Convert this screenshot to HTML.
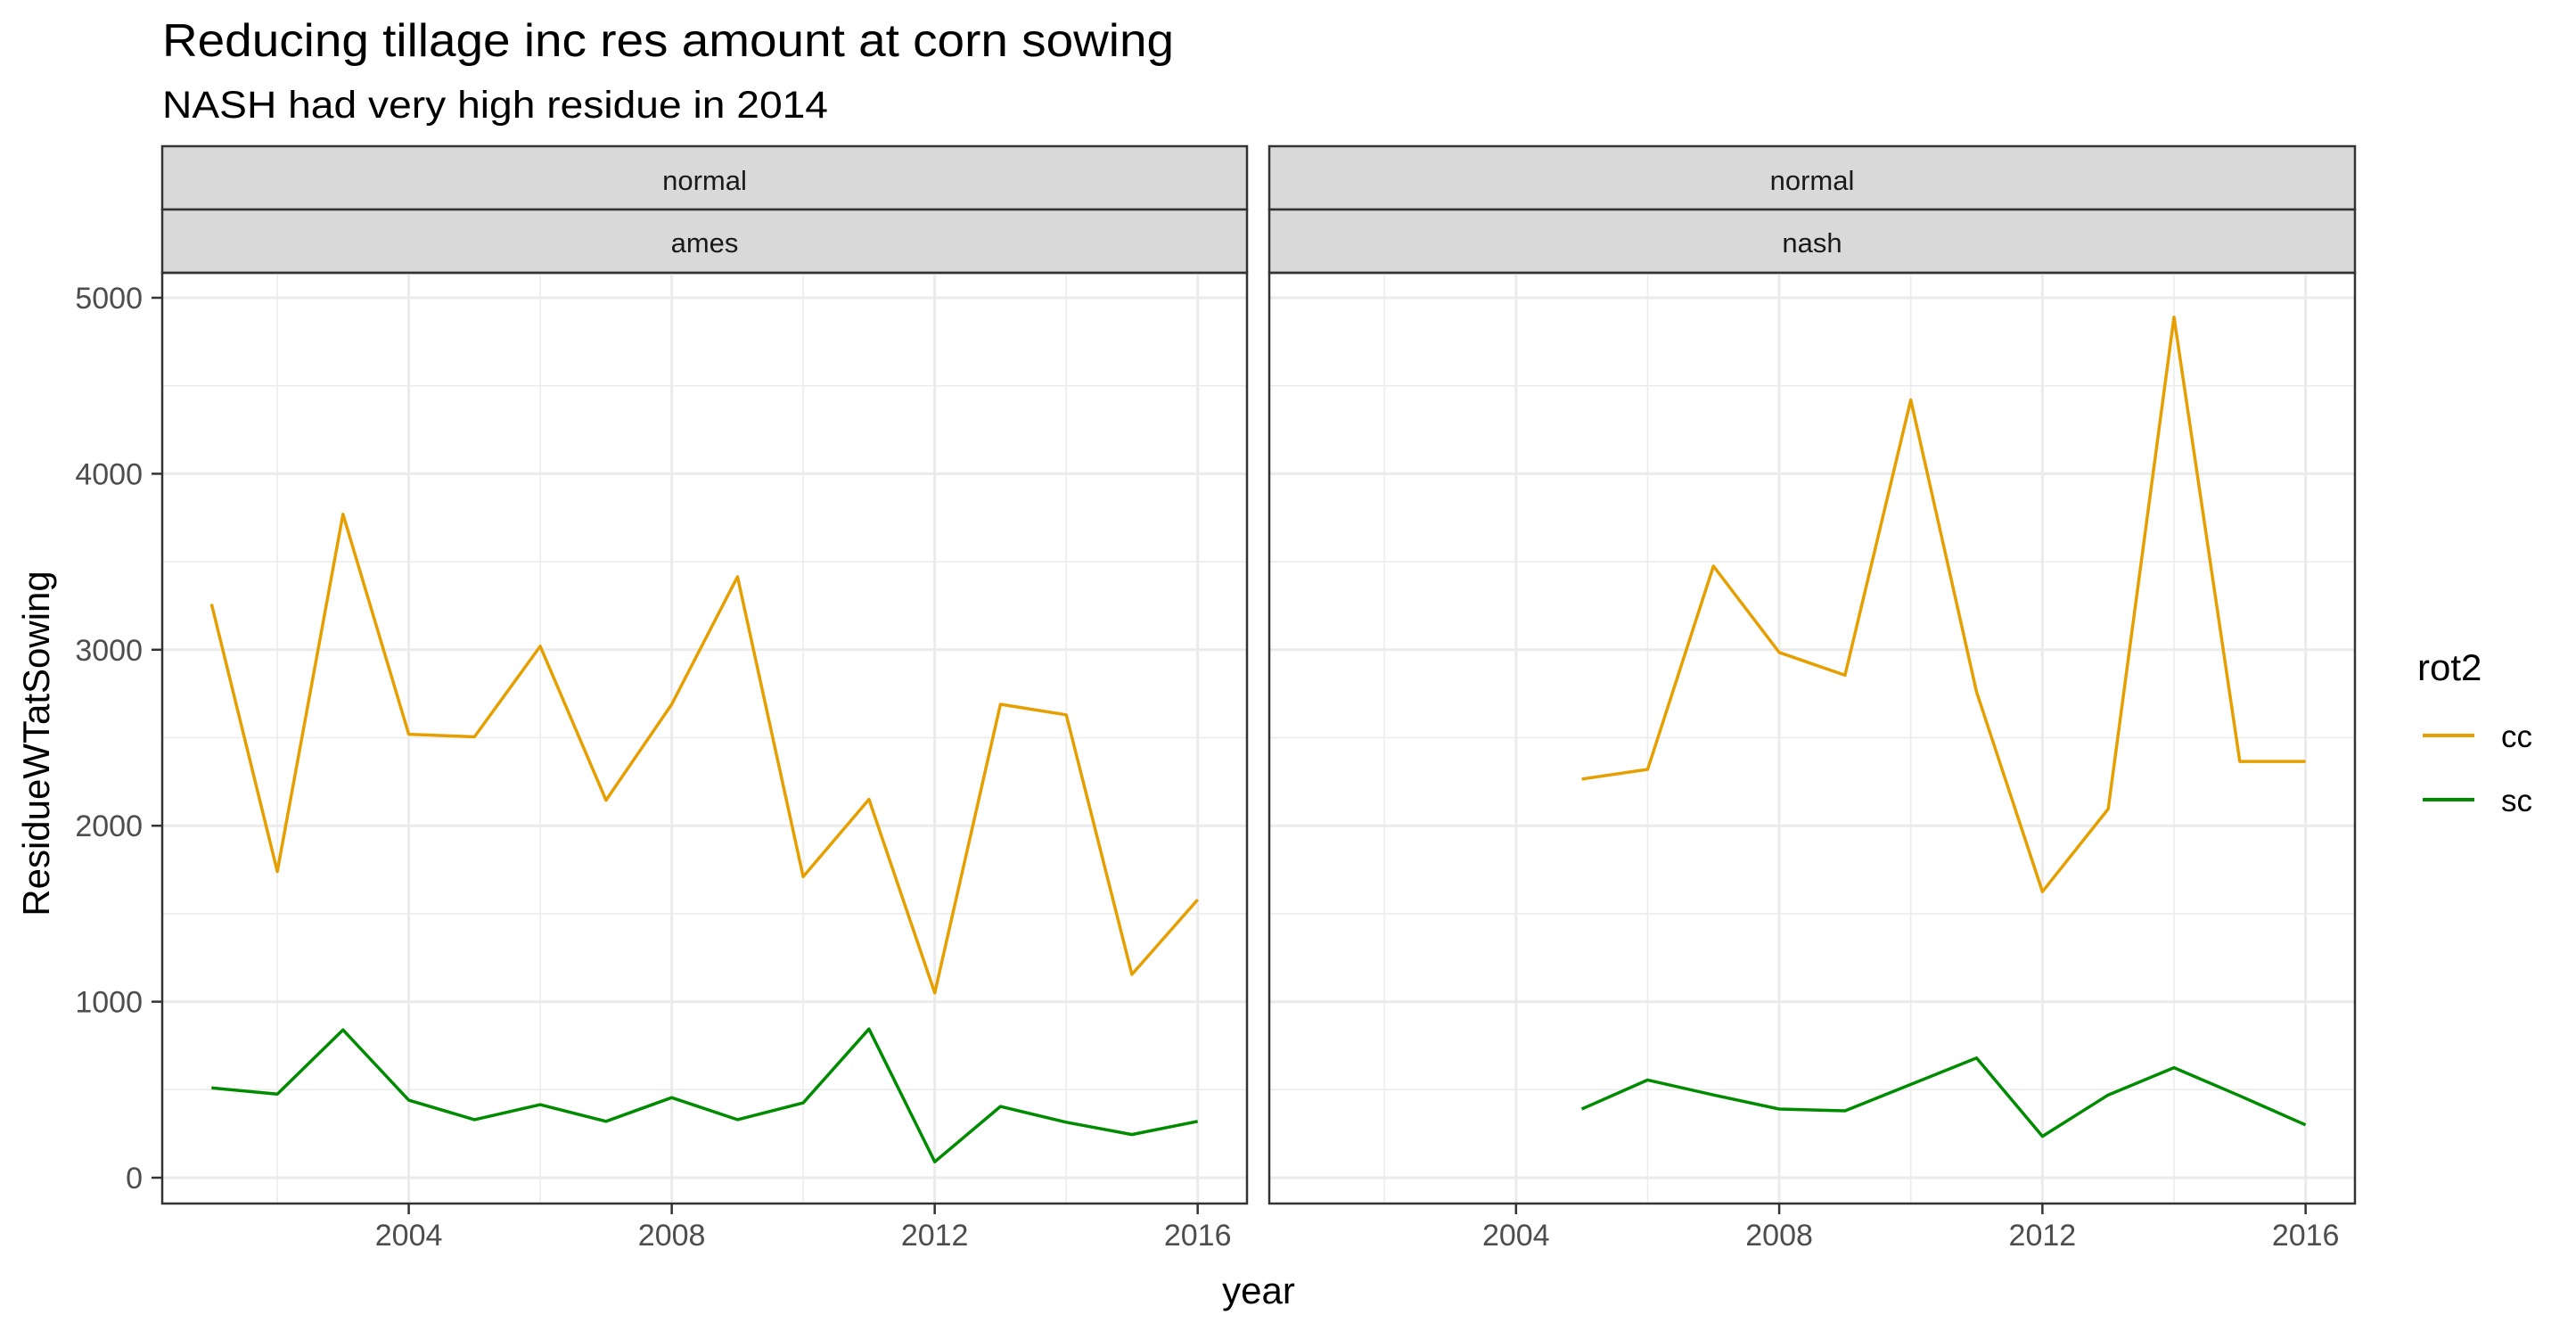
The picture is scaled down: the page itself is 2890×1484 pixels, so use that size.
<!DOCTYPE html>
<html><head><meta charset="utf-8"><style>html,body{margin:0;padding:0;background:#fff}svg{display:block}text{font-family:"Liberation Sans",Arial,sans-serif}</style></head>
<body>
<svg id="chart" width="2890" height="1484" viewBox="0 0 2890 1484" xmlns="http://www.w3.org/2000/svg">
<text x="182" y="63" font-size="52" fill="#000" textLength="1135" lengthAdjust="spacingAndGlyphs">Reducing tillage inc res amount at corn sowing</text>
<text x="182" y="132" font-size="43" fill="#000" textLength="747" lengthAdjust="spacingAndGlyphs">NASH had very high residue in 2014</text>
<g id="panels"></g>
<text x="1412" y="1462" font-size="42" text-anchor="middle" fill="#000">year</text>
<text transform="translate(55,834) rotate(-90)" font-size="42" text-anchor="middle" fill="#000">ResidueWTatSowing</text>
<g>
<text x="2712" y="763" font-size="42" fill="#000">rot2</text>
<line x1="2718" y1="825" x2="2776" y2="825" stroke="#E69F00" stroke-width="4"/>
<text x="2806" y="838" font-size="35" fill="#000">cc</text>
<line x1="2718" y1="897" x2="2776" y2="897" stroke="#008B00" stroke-width="4"/>
<text x="2806" y="910" font-size="35" fill="#000">sc</text>
</g>
</svg>
<script>
const amesYears=[2001,2002,2003,2004,2005,2006,2007,2008,2009,2010,2011,2012,2013,2014,2015,2016];
const amesCC=[3260,1740,3770,2520,2505,3020,2145,2690,3415,1710,2150,1050,2690,2630,1155,1580];
const amesSC=[510,475,840,440,330,415,320,455,330,425,845,90,405,315,245,320];
const nashYears=[2005,2006,2007,2008,2009,2010,2011,2012,2013,2014,2015,2016];
const nashCC=[2265,2320,3475,2985,2855,4420,2760,1625,2095,4890,2365,2365];
const nashSC=[390,555,470,390,380,530,680,235,470,625,465,300];
const xTicks=[2004,2008,2012,2016];
const xMinor=[2002,2006,2010,2014];
const yTicks=[0,1000,2000,3000,4000,5000];
const yMinor=[500,1500,2500,3500,4500];
const panelNames=["ames","nash"];

const NS="http://www.w3.org/2000/svg";
const root=document.getElementById('panels');
const pTop=306,pBot=1350;
function y(v){return 1321-(1321-334)*v/5000;}
function mk(tag,attrs,parent){const e=document.createElementNS(NS,tag);for(const k in attrs)e.setAttribute(k,attrs[k]);(parent||root).appendChild(e);return e;}
const panels=[{x0:182,x1:1399,name:panelNames[0],yrs:amesYears,cc:amesCC,sc:amesSC},{x0:1424,x1:2642,name:panelNames[1],yrs:nashYears,cc:nashCC,sc:nashSC}];
panels.forEach((p,pi)=>{
  const xmin=2000.25,xmax=2016.75;
  const x=v=>p.x0+(v-xmin)/(xmax-xmin)*(p.x1-p.x0);
  const g=mk('g',{});
  
  
  const s1=mk('rect',{x:p.x0,y:164,width:p.x1-p.x0,height:71,fill:'#D9D9D9',stroke:'#333','stroke-width':2.5},g);
  
  
  const s2=mk('rect',{x:p.x0,y:235,width:p.x1-p.x0,height:71,fill:'#D9D9D9',stroke:'#333','stroke-width':2.5},g);
  
  
  const t1=mk('text',{x:(p.x0+p.x1)/2,y:213,'font-size':31,'text-anchor':'middle',fill:'#1A1A1A'},g);t1.textContent='normal';
  
  
  const t2=mk('text',{x:(p.x0+p.x1)/2,y:283,'font-size':31,'text-anchor':'middle',fill:'#1A1A1A'},g);t2.textContent=p.name;
  
  
  yMinor.forEach(v=>{const l=mk('line',{x1:p.x0,x2:p.x1,y1:y(v),y2:y(v),stroke:'#EBEBEB','stroke-width':1.5},g);});
  xMinor.forEach(v=>{const l=mk('line',{x1:x(v),x2:x(v),y1:pTop,y2:pBot,stroke:'#EBEBEB','stroke-width':1.5},g);});
  yTicks.forEach(v=>{const l=mk('line',{x1:p.x0,x2:p.x1,y1:y(v),y2:y(v),stroke:'#EBEBEB','stroke-width':3},g);});
  xTicks.forEach(v=>{const l=mk('line',{x1:x(v),x2:x(v),y1:pTop,y2:pBot,stroke:'#EBEBEB','stroke-width':3},g);});
  [[p.cc,'#E69F00','cc'],[p.sc,'#008B00','sc']].forEach(([vals,col,nm])=>{
    const pts=p.yrs.map((yr,i)=>x(yr).toFixed(1)+','+y(vals[i]).toFixed(1)).join(' ');
    const pl=mk('polyline',{points:pts,fill:'none',stroke:col,'stroke-width':3.5,'stroke-linejoin':'round'},g);
    
    
  });
  const b=mk('rect',{x:p.x0,y:pTop,width:p.x1-p.x0,height:pBot-pTop,fill:'none',stroke:'#333','stroke-width':2.5},g);
  
  
  xTicks.forEach(v=>{
    const tk=mk('line',{x1:x(v),x2:x(v),y1:pBot,y2:pBot+12,stroke:'#333','stroke-width':2.5},g);
    
    
    const tl=mk('text',{x:x(v),y:1397,'font-size':34,'text-anchor':'middle',fill:'#4D4D4D'},g);tl.textContent=v;
    
    
  });
  if(pi===0){
    yTicks.forEach(v=>{
      const tk=mk('line',{x1:170,x2:182,y1:y(v),y2:y(v),stroke:'#333','stroke-width':2.5},g);
      
      
      const tl=mk('text',{x:160,y:y(v)+12,'font-size':34,'text-anchor':'end',fill:'#4D4D4D'},g);tl.textContent=v;
      
      
    });
  }
});
</script>
</body></html>
